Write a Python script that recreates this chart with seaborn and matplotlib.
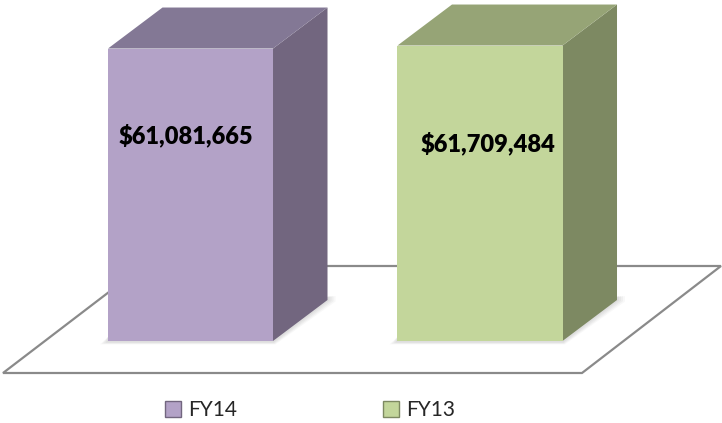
import numpy as np
import pandas as pd
import matplotlib
matplotlib.use("Agg")
import matplotlib.pyplot as plt
import seaborn as sns
from matplotlib.patches import Polygon, Patch, Rectangle
from matplotlib.transforms import IdentityTransform

# ---- data ----
categories = ["FY14", "FY13"]
values = [61081665, 61709484]
value_labels = ["$61,081,665", "$61,709,484"]

front_colors = ["#B3A2C7", "#C3D69B"]
top_colors = ["#837895", "#96A476"]
side_colors = ["#72667F", "#7D8962"]

W, H = 722, 423
DPI = 100

sns.set_theme(style="white")
plt.rcParams["font.family"] = ["Lato", "DejaVu Sans"]

fig = plt.figure(figsize=(W / DPI, H / DPI), dpi=DPI)
fig.patch.set_facecolor("white")

# axes placement (pixels, from top of image)
left_px = 45.75
axw_px = 579
base_px = 341
top_px = 20
ax = fig.add_axes([left_px / W, (H - base_px) / H, axw_px / W, (base_px - top_px) / H])

df = pd.DataFrame({"cat": categories, "val": values})
sns.barplot(data=df, x="cat", y="val", hue="cat", palette=front_colors,
            width=0.57, saturation=1, legend=False, ax=ax, zorder=3,
            edgecolor="none")

ymax_ref = 61.4e6 * (base_px - top_px) / 294.0
ax.set_xlim(-0.5, 1.5)
ax.set_ylim(0, ymax_ref)
ax.set_axis_off()

bars = [p for p in ax.patches if isinstance(p, Rectangle) and p.get_height() > 0]
bars = sorted(bars, key=lambda p: p.get_x())

def px(x, y_from_top):
    return (x, H - y_from_top)

# floor (pixel geometry of the 3D plane)
floor = [px(3, 373), px(582, 373), px(721, 266), px(143, 266)]
ax.add_patch(Polygon(floor, closed=True, facecolor="white", edgecolor="#8A8A8A",
                     linewidth=1.6, transform=IdentityTransform(), clip_on=False,
                     zorder=0.5))

# 3D depth offset in display pixels
ddx, ddy = 54.5, 41.0
trans = ax.transData
for i, bar in enumerate(bars):
    x0 = bar.get_x()
    x1 = x0 + bar.get_width()
    h = bar.get_height()
    (dx0, dyb), (dx1, dyt) = trans.transform([(x0, 0), (x1, h)])
    # soft shadow on floor
    for k, a in enumerate([0.06, 0.05, 0.05, 0.04]):
        g = 2 + 2 * k
        shadow = [(dx0 - g, dyb - 1 - g * 0.3), (dx1 + g * 0.3, dyb - 1 - g * 0.3),
                  (dx1 + ddx + g, dyb + ddy - g * 0.2), (dx1 + ddx + g, dyb + ddy + 4),
                  (dx0, dyb + 4)]
        ax.add_patch(Polygon(shadow, closed=True, facecolor="#555555", alpha=a,
                             edgecolor="none", transform=IdentityTransform(),
                             clip_on=False, zorder=1))
    side = [(dx1, dyb), (dx1 + ddx, dyb + ddy), (dx1 + ddx, dyt + ddy), (dx1, dyt)]
    top = [(dx0, dyt), (dx1, dyt), (dx1 + ddx, dyt + ddy), (dx0 + ddx, dyt + ddy)]
    ax.add_patch(Polygon(side, closed=True, facecolor=side_colors[i], edgecolor="none",
                         transform=IdentityTransform(), clip_on=False, zorder=2))
    ax.add_patch(Polygon(top, closed=True, facecolor=top_colors[i], edgecolor="none",
                         transform=IdentityTransform(), clip_on=False, zorder=2))
    bar.set_clip_on(False)

# value labels
label_dx = [-0.016, 0.028]
label_frac = [0.704, 0.670]
for i, (v, lab) in enumerate(zip(values, value_labels)):
    ax.text(i + label_dx[i], v * label_frac[i], lab, ha="center", va="center",
            fontsize=17, fontweight="heavy", color="black", zorder=5)

ax.set_xlim(-0.5, 1.5)
ax.set_ylim(0, ymax_ref)

# legend
handles = [Patch(facecolor=front_colors[i], edgecolor=side_colors[i], linewidth=1.0)
           for i in range(len(categories))]
fig.legend(handles, categories, loc="center left", ncol=2,
           bbox_to_anchor=(165 / W, 1 - 410 / H), frameon=False,
           fontsize=15, handlelength=0.77, handleheight=0.77,
           handletextpad=0.34, columnspacing=7.0, borderpad=0, borderaxespad=0)

fig.savefig("out.png", dpi=DPI, facecolor="white")
